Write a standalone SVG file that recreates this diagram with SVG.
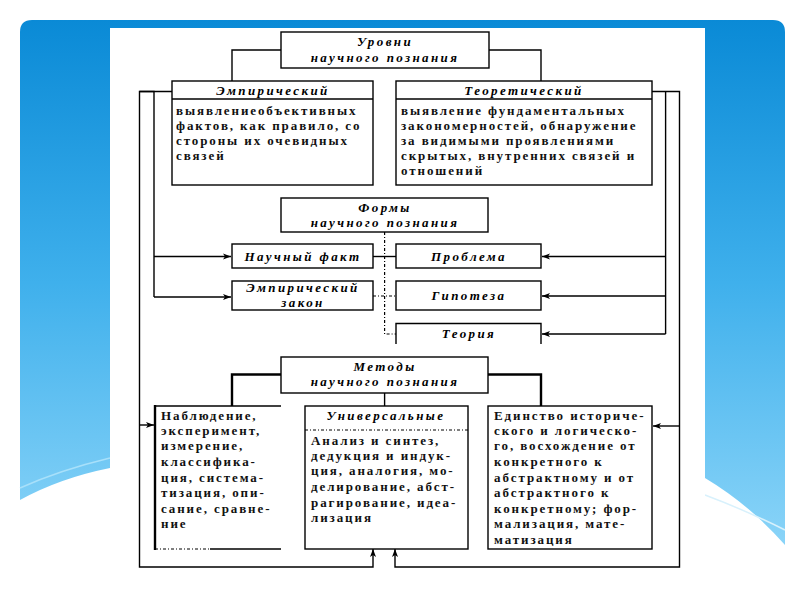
<svg xmlns="http://www.w3.org/2000/svg" width="800" height="600" viewBox="0 0 800 600">
<defs>
<linearGradient id="sky" x1="0" y1="0" x2="0" y2="1">
<stop offset="0" stop-color="#0a8ad6"/>
<stop offset="0.5" stop-color="#3fb0ec"/>
<stop offset="1" stop-color="#8ad4f8"/>
</linearGradient>
<marker id="ah" markerUnits="userSpaceOnUse" markerWidth="9" markerHeight="7" refX="8" refY="3.5" orient="auto">
<path d="M0,0.5 L8,3.5 L0,6.5 L2,3.5 z" fill="#000"/>
</marker>
<style>
.box{fill:#fff;stroke:#000;stroke-width:1.4}
.ln{fill:none;stroke:#000;stroke-width:1.4}
.thick{fill:none;stroke:#000;stroke-width:2.4}
.dot{fill:none;stroke:#000;stroke-width:1.2;stroke-dasharray:3 2 1 2}
.hd{font-family:"Liberation Serif","DejaVu Serif",serif;font-style:italic;font-weight:bold;font-size:13px;letter-spacing:2.4px;text-anchor:middle;fill:#000}
.tx{font-family:"Liberation Serif","DejaVu Serif",serif;font-weight:bold;font-size:13px;letter-spacing:1.9px;fill:#111}
</style>
</defs>

<g id="background">
<rect x="0" y="0" width="800" height="600" fill="#fff"/>
<path d="M32,20 H773 Q785,20 785,32 V545 Q750,505 705,478 L110,468 Q60,478 20,500 V32 Q20,20 32,20 z" fill="url(#sky)"/>
<path d="M705,495 Q745,510 785,530" fill="none" stroke="#d8f1fc" stroke-width="1.5"/>
<path d="M20,488 Q60,470 110,458" fill="none" stroke="#a8e0fa" stroke-width="1.5"/>
<rect x="110" y="28" width="595" height="572" fill="#fff"/>
</g>

<g id="connectors">
<polyline class="ln" points="281,50 232,50 232,81"/>
<polyline class="ln" points="489,50 541,50 541,81"/>
<polyline class="ln" points="172,91.5 139.5,91.5 139.5,567 373,567 373,549" marker-end="url(#ah)"/>
<polyline class="ln" points="139.5,91.5 154,91.5 154,297"/>
<line class="ln" x1="154" y1="256.5" x2="231" y2="256.5" marker-end="url(#ah)"/>
<line class="ln" x1="154" y1="297" x2="231" y2="297" marker-end="url(#ah)"/>
<line class="ln" x1="139.5" y1="425" x2="154" y2="425" marker-end="url(#ah)"/>
<polyline class="ln" points="652,91.5 679.5,91.5 679.5,567 395,567 395,549" marker-end="url(#ah)"/>
<polyline class="ln" points="665.6,91.5 665.6,334"/>
<line class="ln" x1="665.6" y1="256.5" x2="542" y2="256.5" marker-end="url(#ah)"/>
<line class="ln" x1="665.6" y1="296" x2="542" y2="296" marker-end="url(#ah)"/>
<line class="ln" x1="665.6" y1="334" x2="542" y2="334" marker-end="url(#ah)"/>
<line class="ln" x1="679.5" y1="426" x2="653" y2="426" marker-end="url(#ah)"/>
<polyline class="dot" points="384.6,232 384.6,334 396,334"/>
<line class="ln" x1="373" y1="256.5" x2="396" y2="256.5"/>
<line class="dot" x1="373" y1="296" x2="396" y2="296"/>
<polyline class="thick" points="281,374.5 232,374.5 232,406"/>
<polyline class="thick" points="488,374.5 541,374.5 541,406"/>
<line class="ln" x1="384.6" y1="393" x2="384.6" y2="406"/>
</g>

<g id="node-urovni">
<rect class="box" x="281" y="32" width="208" height="36"/>
<text class="hd" x="385" y="46">Уровни</text>
<text class="hd" x="385" y="62">научного познания</text>
</g>

<g id="node-empirical">
<rect class="box" x="172" y="81" width="201" height="104"/>
<line class="ln" x1="172" y1="99" x2="373" y2="99"/>
<text class="hd" x="273" y="95">Эмпирический</text>
<text class="tx" x="176" y="115">выявлениеобъективных</text>
<text class="tx" x="176" y="130">фактов, как правило, со</text>
<text class="tx" x="176" y="145">стороны их очевидных</text>
<text class="tx" x="176" y="160">связей</text>
</g>

<g id="node-theoretical">
<rect class="box" x="396" y="81" width="256" height="104"/>
<line class="ln" x1="396" y1="99" x2="652" y2="99"/>
<text class="hd" x="524" y="95">Теоретический</text>
<text class="tx" x="401" y="115">выявление фундаментальных</text>
<text class="tx" x="401" y="130">закономерностей, обнаружение</text>
<text class="tx" x="401" y="145">за видимыми проявлениями</text>
<text class="tx" x="401" y="160">скрытых, внутренних связей и</text>
<text class="tx" x="401" y="175">отношений</text>
</g>

<g id="node-formy">
<rect class="box" x="281" y="198" width="207" height="34"/>
<text class="hd" x="385" y="212">Формы</text>
<text class="hd" x="385" y="227">научного познания</text>
</g>

<g id="node-fact">
<rect class="box" x="232" y="244" width="141" height="24"/>
<text class="hd" x="303" y="261" font-weight="normal">Научный факт</text>
</g>

<g id="node-law">
<rect class="box" x="232" y="281" width="141" height="29"/>
<text class="hd" x="303" y="292">Эмпирический</text>
<text class="hd" x="303" y="307">закон</text>
</g>

<g id="node-problem">
<rect class="box" x="396" y="244" width="145" height="24"/>
<text class="hd" x="469" y="261">Проблема</text>
</g>

<g id="node-hypothesis">
<rect class="box" x="396" y="281" width="145" height="29"/>
<text class="hd" x="469" y="300">Гипотеза</text>
</g>

<g id="node-theory">
<path class="ln" d="M396,344 V323.5 H541 V344"/>
<text class="hd" x="469" y="338" font-weight="normal">Теория</text>
</g>

<g id="node-metody">
<rect class="box" x="281" y="357" width="207" height="36"/>
<text class="hd" x="385" y="371">Методы</text>
<text class="hd" x="385" y="386">научного познания</text>
</g>

<g id="node-observation">
<line class="ln" x1="155" y1="406" x2="281" y2="406"/>
<line class="thick" x1="155" y1="405" x2="155" y2="550"/>
<line class="ln" x1="210" y1="549" x2="281" y2="549"/>
<line class="dot" x1="155" y1="549" x2="210" y2="549"/>
<text class="tx" x="161" y="420">Наблюдение,</text>
<text class="tx" x="161" y="435">эксперимент,</text>
<text class="tx" x="161" y="450">измерение,</text>
<text class="tx" x="161" y="466">классифика-</text>
<text class="tx" x="161" y="482">ция, система-</text>
<text class="tx" x="161" y="497">тизация, опи-</text>
<text class="tx" x="161" y="513">сание, сравне-</text>
<text class="tx" x="161" y="528">ние</text>
</g>

<g id="node-universal">
<rect class="box" x="305" y="406" width="163" height="143"/>
<line class="dot" x1="305" y1="430" x2="468" y2="430" stroke-width="0.8"/>
<text class="hd" x="386" y="420" font-weight="normal">Универсальные</text>
<text class="tx" x="311" y="445">Анализ и синтез,</text>
<text class="tx" x="311" y="460">дедукция и индук-</text>
<text class="tx" x="311" y="475">ция, аналогия, мо-</text>
<text class="tx" x="311" y="491">делирование, абст-</text>
<text class="tx" x="311" y="507">рагирование, идеа-</text>
<text class="tx" x="311" y="522">лизация</text>
</g>

<g id="node-unity">
<rect class="box" x="488" y="406" width="164" height="143"/>
<text class="tx" x="494" y="420">Единство историче-</text>
<text class="tx" x="494" y="435">ского и логическо-</text>
<text class="tx" x="494" y="450">го, восхождение от</text>
<text class="tx" x="494" y="466">конкретного к</text>
<text class="tx" x="494" y="482">абстрактному и от</text>
<text class="tx" x="494" y="497">абстрактного к</text>
<text class="tx" x="494" y="513">конкретному; фор-</text>
<text class="tx" x="494" y="528">мализация, мате-</text>
<text class="tx" x="494" y="544">матизация</text>
</g>
</svg>
